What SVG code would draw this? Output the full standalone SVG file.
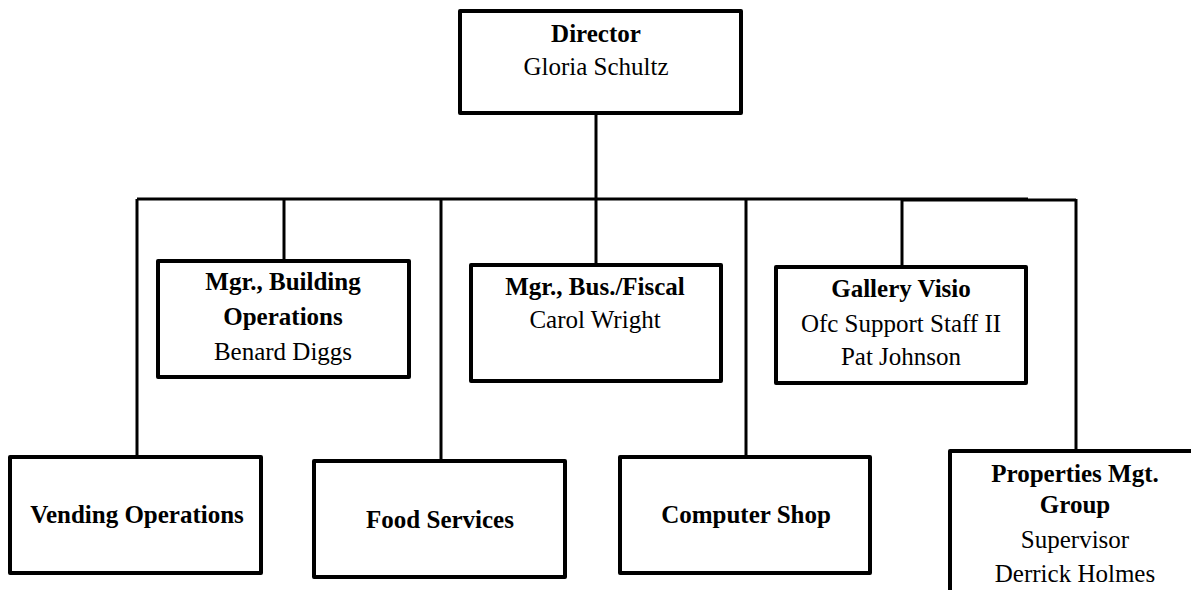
<svg xmlns="http://www.w3.org/2000/svg" width="1191" height="590" viewBox="0 0 1191 590">
<style>
.box{fill:#fff;stroke:#000;stroke-width:4;stroke-linejoin:round}
.ln{fill:none;stroke:#000;stroke-width:3}
text{font-family:'Liberation Serif','Tinos','DejaVu Serif',serif;font-size:25px;fill:#000;text-anchor:middle}
.b{font-weight:bold}
</style>
<rect width="1191" height="590" fill="#fff"/>
<g id="connectors">
<line class="ln" x1="596" y1="113" x2="596" y2="265"/>
<line class="ln" x1="137" y1="199" x2="1028" y2="199"/>
<line class="ln" x1="902" y1="200" x2="1076" y2="200"/>
<line class="ln" x1="137" y1="199" x2="137" y2="457"/>
<line class="ln" x1="284" y1="199" x2="284" y2="261"/>
<line class="ln" x1="441" y1="199" x2="441" y2="461"/>
<line class="ln" x1="746" y1="199" x2="746" y2="457"/>
<line class="ln" x1="902" y1="199" x2="902" y2="267"/>
<line class="ln" x1="1076" y1="199" x2="1076" y2="451"/>
</g>
<g id="director">
<rect class="box" x="460" y="11" width="281" height="102"/>
<text class="b" x="596" y="42">Director</text>
<text x="596" y="75">Gloria Schultz</text>
</g>
<g id="mgr-building">
<rect class="box" x="158" y="261" width="251" height="116"/>
<text class="b" x="283" y="290">Mgr., Building</text>
<text class="b" x="283" y="325">Operations</text>
<text x="283" y="360">Benard Diggs</text>
</g>
<g id="mgr-bus-fiscal">
<rect class="box" x="471" y="265" width="250" height="116"/>
<text class="b" x="595" y="295">Mgr., Bus./Fiscal</text>
<text x="595" y="328">Carol Wright</text>
</g>
<g id="gallery">
<rect class="box" x="776" y="267" width="250" height="116"/>
<text class="b" x="901" y="297">Gallery Visio</text>
<text x="901" y="332">Ofc Support Staff II</text>
<text x="901" y="365">Pat Johnson</text>
</g>
<g id="vending">
<rect class="box" x="10" y="457" width="251" height="116"/>
<text class="b" x="137" y="523">Vending Operations</text>
</g>
<g id="food">
<rect class="box" x="314" y="461" width="251" height="116"/>
<text class="b" x="440" y="528">Food Services</text>
</g>
<g id="computer">
<rect class="box" x="620" y="457" width="250" height="116"/>
<text class="b" x="746" y="523">Computer Shop</text>
</g>
<g id="properties">
<rect class="box" x="950" y="451" width="252" height="150"/>
<text class="b" x="1075" y="482">Properties Mgt.</text>
<text class="b" x="1075" y="513">Group</text>
<text x="1075" y="548">Supervisor</text>
<text x="1075" y="582">Derrick Holmes</text>
</g>
</svg>
